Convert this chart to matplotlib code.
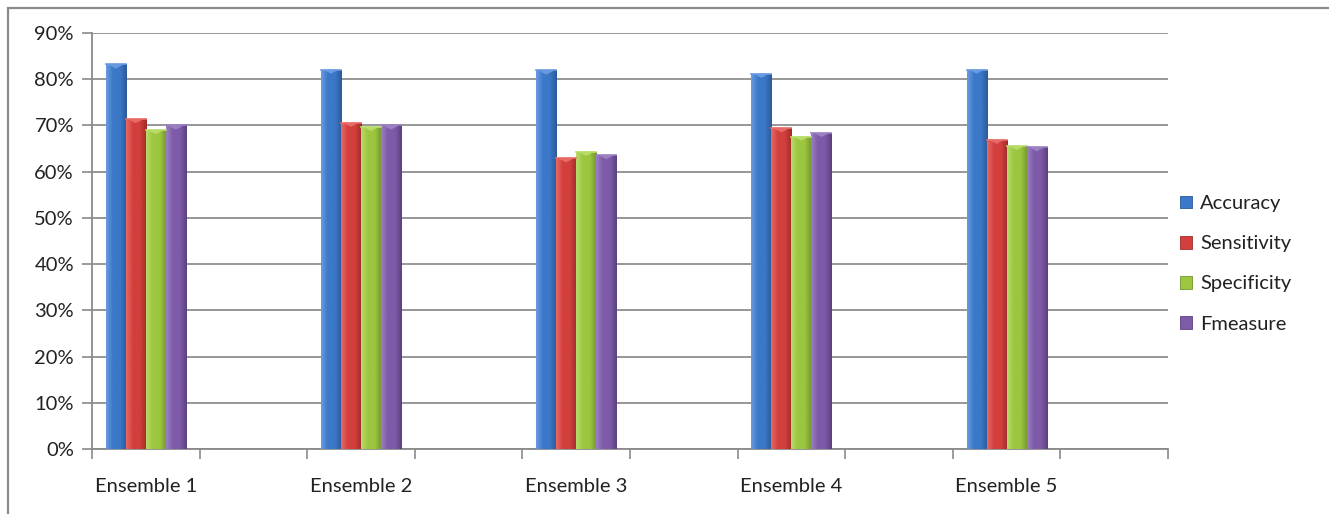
import numpy as np
import matplotlib.pyplot as plt
from matplotlib.patches import Polygon, Rectangle
from matplotlib.colors import LinearSegmentedColormap

# scores per ensemble (percent)
ensembles = ['Ensemble 1', 'Ensemble 2', 'Ensemble 3', 'Ensemble 4', 'Ensemble 5']
metrics = ['Accuracy', 'Sensitivity', 'Specificity', 'Fmeasure']
accuracy = [83.2, 82.1, 81.9, 81.2, 82.1]
sensitivity = [71.4, 70.6, 62.9, 69.4, 66.9]
specificity = [69.0, 69.7, 64.3, 67.6, 65.6]
fmeasure = [70.0, 70.0, 63.6, 68.4, 65.3]

series = [accuracy, sensitivity, specificity, fmeasure]
# (light, mid, dark) shades for each series
shades = [('#6a9be0', '#3b78c8', '#2a5a98'),
          ('#e86a66', '#d23f3c', '#9e2c2a'),
          ('#b8dc68', '#9cc63f', '#729530'),
          ('#9c80c4', '#7e5ba8', '#5c4180')]

plt.rcParams['font.family'] = ['Lato', 'DejaVu Sans']
fs = 14.5

fig = plt.figure(figsize=(13.29, 5.14), dpi=100)
ax = fig.add_axes([0.0692, 0.1265, 0.8097, 0.8093])

# outer chart border
fig.patches.append(Rectangle((8 / 1329, -0.1), 1.2, (514 - 8) / 514 + 0.1,
                             transform=fig.transFigure, fill=False,
                             edgecolor='#8a8a8a', linewidth=1.6))

# each ensemble takes two category slots, the second left empty
slots = np.arange(len(ensembles)) * 2
width = 0.186
grad = np.linspace(0, 1, 64).reshape(1, -1)

for j, (vals, (light, mid, dark)) in enumerate(zip(series, shades)):
    cmap = LinearSegmentedColormap.from_list(metrics[j], [light, mid, mid, dark])
    xs = slots + (j - 1.5) * width
    bars = ax.bar(xs, vals, width, color=mid, edgecolor=dark, linewidth=0.6,
                  label=metrics[j], zorder=3)
    for b in bars:
        x0, w, h = b.get_x(), b.get_width(), b.get_height()
        im = ax.imshow(grad, cmap=cmap, aspect='auto', extent=(x0, x0 + w, 0, h),
                       zorder=3.5, interpolation='bilinear')
        im.set_clip_path(b)
        # bevel at the top of the bar
        ax.add_patch(Polygon([(x0 + 0.1 * w, h), (x0 + 0.9 * w, h),
                              (x0 + 0.5 * w, h - 0.9)], closed=True,
                             facecolor=light, edgecolor='none', zorder=4))
        ax.plot([x0, x0 + w], [h, h], color=light, lw=1.2, zorder=4)

ax.set_xlim(-0.5, 9.5)
ax.set_ylim(0, 90)
ax.set_yticks(np.arange(0, 91, 10))
ax.set_yticklabels([f'{v}%' for v in range(0, 91, 10)])
ax.set_xticks(slots)
ax.set_xticklabels(ensembles)
ax.set_xticks(np.arange(-0.5, 10, 1), minor=True)
ax.tick_params(axis='x', which='major', length=0, pad=21, labelsize=fs, labelcolor='#222222')
ax.tick_params(axis='x', which='minor', length=7, color='#8a8a8a', width=1.2)
ax.tick_params(axis='y', length=7, color='#8a8a8a', width=1.2, labelsize=fs,
               labelcolor='#222222', pad=6)

ax.grid(axis='y', color='#8f8f8f', linewidth=1.3, zorder=0)
for s in ['top', 'right']:
    ax.spines[s].set_visible(False)
for s in ['left', 'bottom']:
    ax.spines[s].set_color('#8a8a8a')
    ax.spines[s].set_linewidth(1.3)

leg = ax.legend(loc='center left', bbox_to_anchor=(1.0, 0.445), frameon=False,
                fontsize=fs, handlelength=0.6, handleheight=0.6, handletextpad=0.4,
                labelspacing=1.15, borderaxespad=0.2)
for t in leg.get_texts():
    t.set_color('#222222')

fig.savefig('out.png', dpi=100, facecolor='white')
